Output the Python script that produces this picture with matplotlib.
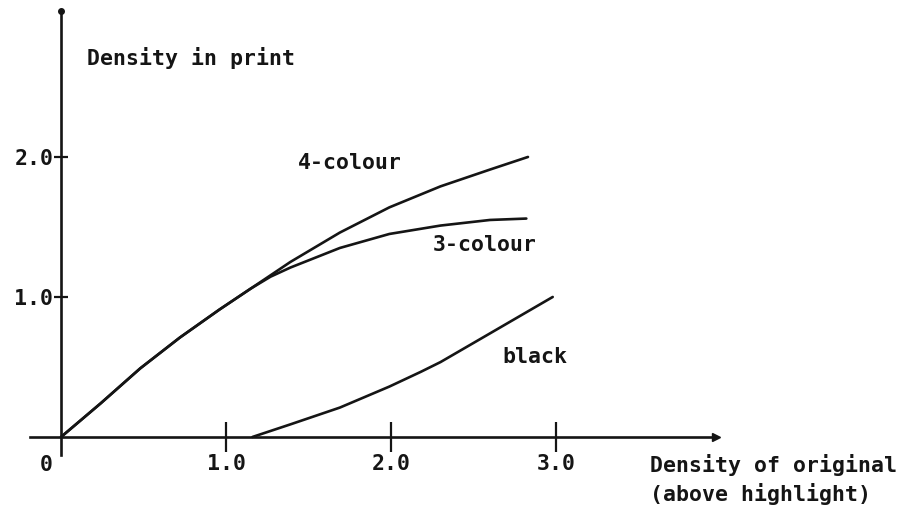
import matplotlib
matplotlib.use("Agg")
import matplotlib.pyplot as plt

# ---- data ----
four_x = [0.0, 0.24, 0.48, 0.72, 0.96, 1.15, 1.27, 1.39, 1.69, 1.99, 2.30, 2.60, 2.83]
four_y = [0.0, 0.24, 0.49, 0.71, 0.91, 1.06, 1.155, 1.25, 1.46, 1.64, 1.79, 1.91, 2.00]

three_x = [0.0, 0.24, 0.48, 0.72, 0.96, 1.15, 1.27, 1.39, 1.69, 1.99, 2.30, 2.60, 2.82]
three_y = [0.0, 0.24, 0.49, 0.71, 0.91, 1.06, 1.145, 1.21, 1.35, 1.45, 1.51, 1.55, 1.56]

black_x = [1.16, 1.39, 1.69, 1.99, 2.18, 2.30, 2.60, 2.98]
black_y = [0.0, 0.09, 0.21, 0.36, 0.465, 0.535, 0.74, 1.00]

x_ticks = [1.0, 2.0, 3.0]
x_tick_labels = ["1.0", "2.0", "3.0"]
y_ticks = [1.0, 2.0]
y_tick_labels = ["1.0", "2.0"]

ink = "#151515"
fs = 15.5
font = dict(family="DejaVu Sans Mono", weight="bold", size=fs, color=ink)

fig = plt.figure(figsize=(9.03, 5.13), dpi=100)
ax = fig.add_axes([0, 0, 1, 1])
ax.set_xlim(-0.37, 5.103)
ax.set_ylim(-0.543, 3.121)

lw = 1.9
for xs, ys in [(four_x, four_y), (three_x, three_y), (black_x, black_y)]:
    ax.plot(xs, ys, color=ink, lw=lw, solid_capstyle="round", solid_joinstyle="round")

# axes as spines through the origin
for s in ["top", "right"]:
    ax.spines[s].set_visible(False)
ax.spines["left"].set_position(("data", 0))
ax.spines["bottom"].set_position(("data", 0))
ax.spines["left"].set_bounds(-0.13, 3.04)
ax.spines["bottom"].set_bounds(-0.19, 3.97)
for s in ["left", "bottom"]:
    ax.spines[s].set_linewidth(1.9)
    ax.spines[s].set_color(ink)

# arrow head at right end of x axis, dot at top of y axis
ax.plot([3.97], [0], marker=">", color=ink, markersize=6, clip_on=False)
ax.plot([0], [3.04], marker="o", color=ink, markersize=4, clip_on=False)

ax.set_xticks(x_ticks)
ax.set_xticklabels(x_tick_labels)
ax.set_yticks(y_ticks)
ax.set_yticklabels(y_tick_labels)
ax.tick_params(axis="x", direction="inout", length=22, width=1.6, color=ink, pad=1)
ax.tick_params(axis="y", direction="inout", length=10, width=1.6, color=ink, pad=0.5)
for lab in ax.get_xticklabels() + ax.get_yticklabels():
    lab.set_fontfamily("DejaVu Sans Mono")
    lab.set_fontweight("bold")
    lab.set_fontsize(fs)
    lab.set_color(ink)

ax.text(-0.09, -0.2, "0", ha="center", va="center", **font)
ax.text(0.158, 2.707, "Density in print", ha="left", va="center", **font)
ax.text(1.436, 1.957, "4-colour", ha="left", va="center", **font)
ax.text(2.255, 1.371, "3-colour", ha="left", va="center", **font)
ax.text(2.673, 0.571, "black", ha="left", va="center", **font)
ax.text(3.57, -0.2, "Density of original", ha="left", va="center", **font)
ax.text(3.57, -0.407, "(above highlight)", ha="left", va="center", **font)

fig.savefig("out.png", dpi=100)
